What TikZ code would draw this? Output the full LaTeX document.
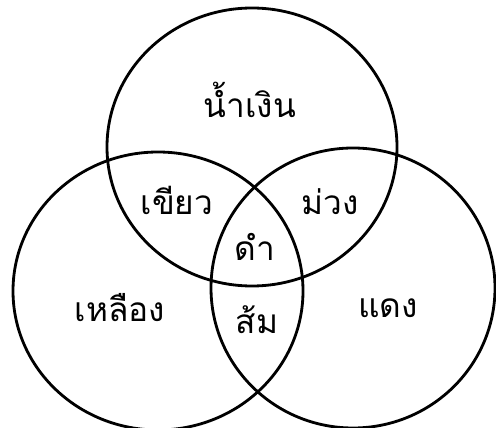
\documentclass[tikz,border=0pt]{standalone}
\usepackage{fontspec}
\newfontfamily\thaifont[Script=Thai]{Loma}
\definecolor{ink}{HTML}{000000}

\begin{document}
\begin{tikzpicture}[x=0.02cm, y=-0.02cm,
  ring/.style={draw=ink, line width=1.6pt},
  colname/.style={text=ink, font=\thaifont\fontsize{19}{22}\selectfont, inner sep=0pt}]

% Canvas
\useasboundingbox (0,0) rectangle (496,428);

% ================================================================
% Three overlapping circles
% ================================================================
\coordinate (ctop)   at (252,147);
\coordinate (cleft)  at (158,291);
\coordinate (cright) at (353,288);

\draw[ring] (ctop)   ellipse [x radius=145, y radius=139];
\draw[ring] (cleft)  ellipse [x radius=145, y radius=139];
\draw[ring] (cright) ellipse [x radius=142, y radius=140];

% ================================================================
% Region labels
% ================================================================
\node[colname] (blue)   at (250,100) {น้ำเงิน};
\node[colname] (green)  at (177,200) {เขียว};
\node[colname] (purple) at (330,202) {ม่วง};
\node[colname] (black)  at (255,247) {ดำ};
\node[colname] (yellow) at (120,308) {เหลือง};
\node[colname] (orange) at (257,320) {ส้ม};
\node[colname] (red)    at (388,308) {แดง};

\end{tikzpicture}
\end{document}
